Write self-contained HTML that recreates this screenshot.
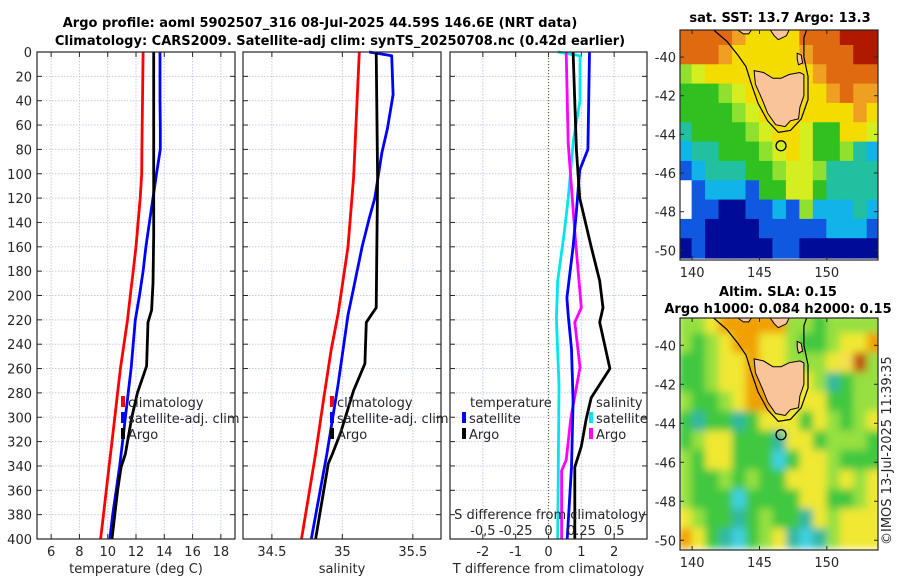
<!DOCTYPE html>
<html><head><meta charset="utf-8">
<style>
html,body{margin:0;padding:0;background:#fff;}
svg{display:block;font-family:"DejaVu Sans","Liberation Sans",sans-serif;}
.tk{font-size:13px;fill:#262626;}
.ttl{font-size:13px;font-weight:bold;fill:#000;}
</style></head>
<body>
<svg id="fig" width="900" height="580" viewBox="0 0 900 580">
<text class="ttl" x="320" y="27" text-anchor="middle">Argo profile: aoml 5902507_316 08-Jul-2025 44.59S 146.6E (NRT data)</text>
<text class="ttl" x="340" y="45" text-anchor="middle">Climatology: CARS2009. Satellite-adj clim: synTS_20250708.nc (0.42d earlier)</text>
<text class="ttl" x="780" y="22" text-anchor="middle">sat. SST: 13.7 Argo: 13.3</text>
<text class="ttl" x="778" y="296" text-anchor="middle">Altim. SLA: 0.15</text>
<text class="ttl" x="778" y="313" text-anchor="middle">Argo h1000: 0.084 h2000: 0.15</text>
<text class="tk" transform="translate(891,545) rotate(-90)">©IMOS 13-Jul-2025 11:39:35</text>
<g id="plots"></g>
</svg>
<script>
// ---------- data ----------
const depthTicks = [0,20,40,60,80,100,120,140,160,180,200,220,240,260,280,300,320,340,360,380,400];
const tempTicks = [6,8,10,12,14,16,18];
const salTicks = [34.5,35,35.5];
const tdiffTicks = [-2,-1,0,1,2];
const sdiffTicks = [-0.5,-0.25,0,0.25,0.5];
const sdiffTickLabels = ["-0,5","-0.25","0","0.25","0.5"];

const tClimDepth = [0,20,40,60,80,100,120,140,160,180,200,220,240,260,280,300,320,340,360,380,400];
const tClim = [12.5,12.48,12.46,12.44,12.42,12.4,12.3,12.15,12.0,11.8,11.6,11.4,11.15,10.9,10.7,10.5,10.3,10.1,9.9,9.7,9.5];
const tSatDepth = [0,20,40,60,80,100,120,140,160,180,200,220,240,260,280,300,320,340,360,380,400];
const tSat = [13.7,13.7,13.7,13.72,13.72,13.45,13.2,12.95,12.7,12.5,12.25,11.95,11.8,11.65,11.45,11.25,11.05,10.85,10.6,10.35,10.15];
const tArgoDepth = [0,50,100,150,190,212,222,258,280,300,320,330,341,360,380,400];
const tArgo = [13.25,13.25,13.25,13.25,13.2,13.1,12.85,12.75,12.1,11.7,11.4,11.25,10.95,10.7,10.5,10.3];

const sClimDepth = [0,103,160,215,245,283,330,400];
const sClim = [35.12,35.08,35.04,34.97,34.92,34.87,34.81,34.71];
const sSatDepth = [0,3,35,63,83,120,137,160,194,216,273,330,400];
const sSat = [35.19,35.35,35.36,35.32,35.28,35.23,35.19,35.14,35.08,35.04,34.97,34.89,34.78];
const sArgoDepth = [0,103,210,222,256,278,312,330,338,400];
const sArgo = [35.24,35.25,35.24,35.17,35.16,35.08,34.99,34.93,34.9,34.81];

const dTSatDepth = [0,80,97,131,160,202,216,244,287,341,400];
const dTSat = [1.25,1.2,0.95,0.85,0.75,0.56,0.6,0.7,0.75,0.7,0.57];
const dTArgoDepth = [0,80,120,160,188,210,222,260,284,301,324,341,400];
const dTArgo = [0.75,0.85,0.95,1.3,1.56,1.66,1.56,1.87,1.3,1.15,1.0,0.8,0.8];
const dSSatDepth = [0,3,40,72,120,148,188,219,273,400];
const dSSat = [0.07,0.24,0.24,0.19,0.15,0.12,0.07,0.06,0.08,0.07];
const dSArgoDepth = [0,75,148,210,222,259,301,335,344,400];
const dSArgo = [0.135,0.15,0.2,0.25,0.2,0.24,0.17,0.135,0.1,0.1];

// map colour grids (lon 139..154, lat -38.5..-50.5, 1 deg cells)
const sstRows = [
"OOOOoYYYYOOORRRR","OOOoYYYYYoOOORRR","gyYYYYYYYYoOOOOO","GGGgyYYYYYYoOooo",
"GGGGgyYYYYYYYoYY","TGGGGgyYYyGGYYyy","CTTGGGgyYyGGgTCC","BCTTTGGgyygTTTTT",
"WBCCCBGGyyGTTTTT","WBBNNBBCBgCCCTCC","BBNNNNBBBBBCCCBB","NBNNNNNBBNNNNNNN"];
const slaRows = [
"ggYOOOOOggGggggg","gGgYOOYYgGGgYYOO","GGgYYOYYgggYyRgg","GGgYYOOYYYgTGggg",
"gGGgYOOOYYYGGggg","GTGGTGYYYGYgGgYY","GgYYGGGTYYGgggGG","gGYYGGGCGYYgGGGG",
"gGGgGgGGYYYgYgYY","gGGGCGGGGYYGGgYY","YgGGTGgGGTYgYYYY","OYGTCGgYTCTgYYYY"];

const NS = "http://www.w3.org/2000/svg";
const root = document.getElementById('plots');
function el(tag, attrs, parent){const e=document.createElementNS(NS,tag);for(const k in attrs)e.setAttribute(k,attrs[k]);(parent||root).appendChild(e);return e;}

const Y0 = 52, Y1 = 539;
const yScale = d => Y0 + (d/400)*(Y1-Y0);

function panel(name, x0, x1, vmin, vmax, ticks, labels, xlabel, showY){
  const xs = v => x0 + (v-vmin)/(vmax-vmin)*(x1-x0);
  const g = el('g',{});
  
  
  // grid
  depthTicks.forEach(d=>{
    const l = el('line',{x1:x0,x2:x1,y1:yScale(d),y2:yScale(d),stroke:'#c4cbe8','stroke-dasharray':'1.5,1.5','stroke-width':1},g);
    
    
    el('line',{x1:x0,x2:x0+5,y1:yScale(d),y2:yScale(d),stroke:'#262626'},g);
    el('line',{x1:x1,x2:x1-5,y1:yScale(d),y2:yScale(d),stroke:'#262626'},g);
    if(showY){
      const t = el('text',{x:x0-5,y:yScale(d)+5,'text-anchor':'end',class:'tk'},g);
      t.textContent = d;
      
      
    }
  });
  ticks.forEach((v,i)=>{
    const l = el('line',{x1:xs(v),x2:xs(v),y1:Y0,y2:Y1,stroke:'#c4cbe8','stroke-dasharray':'1.5,1.5','stroke-width':1},g);
    
    
    el('line',{x1:xs(v),x2:xs(v),y1:Y1,y2:Y1-5,stroke:'#262626'},g);
    el('line',{x1:xs(v),x2:xs(v),y1:Y0,y2:Y0+5,stroke:'#262626'},g);
    const t = el('text',{x:xs(v),y:Y1+17,'text-anchor':'middle',class:'tk'},g);
    t.textContent = labels[i];
    
    
  });
  const xl = el('text',{x:(x0+x1)/2,y:Y1+34,'text-anchor':'middle',class:'tk'},g);
  xl.textContent = xlabel;
  
  
  return {g, xs};
}
function border(g,x0,x1){
  const r = el('rect',{x:x0,y:Y0,width:x1-x0,height:Y1-Y0,fill:'none',stroke:'#262626','stroke-width':1.2},g);
  
  
}
function line(g, xs, depths, vals, color, name){
  const pts = vals.map((v,i)=>xs(v).toFixed(1)+','+yScale(depths[i]).toFixed(1)).join(' ');
  const p = el('polyline',{points:pts,fill:'none',stroke:color,'stroke-width':2.8,'stroke-linejoin':'round'},g);
  
  
}
function legendEntry(g,x,y,color,label,name){
  el('rect',{x:x,y:y-11,width:4,height:11,fill:color},g);
  const t = el('text',{x:x+7,y:y,class:'tk'},g);
  t.textContent = label;
  
  
}

// Panel 1 temperature
const p1 = panel('temperature-panel',37,235,5,19,tempTicks,tempTicks.map(String),'temperature (deg C)',true);
line(p1.g,p1.xs,tClimDepth,tClim,'#ff0000','temp-climatology-line');
line(p1.g,p1.xs,tSatDepth,tSat,'#0000ff','temp-satellite-line');
line(p1.g,p1.xs,tArgoDepth,tArgo,'#000000','temp-argo-line');
legendEntry(p1.g,121,407,'#ff0000','climatology','legend-climatology');
legendEntry(p1.g,121,423,'#0000ff','satellite-adj. clim','legend-satellite');
legendEntry(p1.g,121,439,'#000000','Argo','legend-argo');
border(p1.g,37,235);

// Panel 2 salinity
const p2 = panel('salinity-panel',243,441,34.295,35.70,salTicks,salTicks.map(String),'salinity',false);
line(p2.g,p2.xs,sClimDepth,sClim,'#ff0000','sal-climatology-line');
line(p2.g,p2.xs,sSatDepth,sSat,'#0000ff','sal-satellite-line');
line(p2.g,p2.xs,sArgoDepth,sArgo,'#000000','sal-argo-line');
legendEntry(p2.g,330,407,'#ff0000','climatology','legend-climatology');
legendEntry(p2.g,330,423,'#0000ff','satellite-adj. clim','legend-satellite');
legendEntry(p2.g,330,439,'#000000','Argo','legend-argo');
border(p2.g,243,441);

// Panel 3 differences
const p3 = panel('difference-panel',450,647,-3,3,tdiffTicks,tdiffTicks.map(String),'T difference from climatology',false);
const xsS = v => p3.xs(v*4);
el('line',{x1:p3.xs(0),x2:p3.xs(0),y1:Y0,y2:Y1,stroke:'#556b2f','stroke-dasharray':'1,2','stroke-width':1.2},p3.g);
line(p3.g,xsS,dSSatDepth,dSSat,'#00e5ee','sdiff-satellite-line');
line(p3.g,xsS,dSArgoDepth,dSArgo,'#ff00ff','sdiff-argo-line');
line(p3.g,p3.xs,dTSatDepth,dTSat,'#0000ff','tdiff-satellite-line');
line(p3.g,p3.xs,dTArgoDepth,dTArgo,'#000000','tdiff-argo-line');
{
  const t = el('text',{x:470,y:407,class:'tk'},p3.g); t.textContent='temperature';
   
  const s = el('text',{x:596,y:407,class:'tk'},p3.g); s.textContent='salinity';
   
}
legendEntry(p3.g,462,423,'#0000ff','satellite','legend-t-satellite');
legendEntry(p3.g,462,439,'#000000','Argo','legend-t-argo');
legendEntry(p3.g,589,423,'#00e5ee','satellite','legend-s-satellite');
legendEntry(p3.g,589,439,'#ff00ff','Argo','legend-s-argo');
{
  const t = el('text',{x:550,y:519,'text-anchor':'middle',class:'tk'},p3.g); t.textContent='S difference from climatology';
   
  sdiffTicks.forEach((v,i)=>{
    const l = el('text',{x:xsS(v),y:535,'text-anchor':'middle',class:'tk'},p3.g); l.textContent=sdiffTickLabels[i];
     
  });
}
border(p3.g,450,647);

// ---------- maps ----------
const pal = {R:'#b01800',O:'#e06a10',o:'#f0a020',Y:'#f5dc00',y:'#d4ee20',G:'#30c020',g:'#90e030',T:'#20c0a0',C:'#10b4e8',B:'#1058e0',N:'#000c98',W:'#ffffff'};
const pal2 = {R:'#c05010',O:'#f0a000',Y:'#f0e830',y:'#f5e050',G:'#40c840',g:'#96e040',T:'#30b8a0',C:'#40d0e0'};
const LON0=139.1, LON1=153.8, LAT0=-38.6, LAT1=-50.5;
const tas=[[144.6,-40.7],[145.3,-40.8],[146,-41.1],[146.6,-41.1],[147.2,-40.9],[148.0,-40.8],[148.3,-40.9],[148.3,-42.0],[148.0,-42.6],[147.9,-43.2],[147.3,-43.3],[146.9,-43.6],[146.2,-43.5],[145.6,-42.9],[145.2,-42.2],[144.7,-41.4]];
const flinders=[[147.8,-39.8],[148.1,-39.9],[148.2,-40.3],[147.9,-40.4],[147.8,-40.1]];
const vicA=[[143.4,-38.6],[144.4,-38.6],[144.2,-38.8],[143.8,-38.8]];
const vicB=[[145.8,-38.6],[147.2,-38.6],[147.0,-38.9],[146.4,-39.1],[146.1,-38.9]];
const contour=[[141.6,-38.6],[142.6,-39.2],[143.4,-39.9],[144.0,-40.5],[144.4,-41.4],[144.9,-42.4],[145.6,-43.3],[146.4,-43.9],[147.3,-43.8],[148.1,-43.2],[148.6,-42.2],[148.6,-41.0],[148.3,-40.0],[148.3,-39.0],[148.5,-38.6]];
const argoLon=146.6, argoLat=-44.59;

function map(name,x0,y0,x1,y1,rows,palette,blur){
  const mx = lon => x0+(lon-LON0)/(LON1-LON0)*(x1-x0);
  const my = lat => y0+(lat-LAT0)/(LAT1-LAT0)*(y1-y0);
  const g = el('g',{});
  
  
  const id='clip'+name;
  const cp = el('clipPath',{id:id},g); el('rect',{x:x0,y:y0,width:x1-x0,height:y1-y0},cp);
  const cg = el('g',{'clip-path':'url(#'+id+')'},g);
  const fg = el('g',blur?{filter:'url(#blr)'}:{},cg);
  rows.forEach((r,ri)=>{
    for(let ci=0;ci<r.length;ci++){
      const lon=139+ci, lat=-38.5-ri;
      el('rect',{x:mx(lon)-0.5,y:my(lat+0.1)-0.5,width:mx(lon+1)-mx(lon)+1,height:my(lat-1)-my(lat)+1,fill:palette[r[ci]]},fg);
    }
  });
  const poly=(pts,attrs,nm)=>{const p=el('polygon',Object.assign({points:pts.map(p=>mx(p[0]).toFixed(1)+','+my(p[1]).toFixed(1)).join(' ')},attrs),cg);};
  poly(tas,{fill:'#f9c49a',stroke:'#000','stroke-width':1},'tasmania-land');
  poly(flinders,{fill:'#f9c49a',stroke:'#000','stroke-width':1},'flinders-island');
  poly(vicA,{fill:'#f9c49a',stroke:'#000','stroke-width':1},'mainland-coast');
  poly(vicB,{fill:'#f9c49a',stroke:'#000','stroke-width':1},'mainland-coast');
  const c=el('polyline',{points:contour.map(p=>mx(p[0]).toFixed(1)+','+my(p[1]).toFixed(1)).join(' '),fill:'none',stroke:'#000','stroke-width':1.2},cg);
   
  const m=el('circle',{cx:mx(argoLon),cy:my(argoLat),r:5,fill:'none',stroke:'#000','stroke-width':1.3},cg);
   
  const fr=el('rect',{x:x0,y:y0,width:x1-x0,height:y1-y0,fill:'none',stroke:'#262626','stroke-width':1.2},g);
   
  [-40,-42,-44,-46,-48,-50].forEach(lat=>{
    el('line',{x1:x0,x2:x0+4,y1:my(lat),y2:my(lat),stroke:'#262626'},g);
    el('line',{x1:x1,x2:x1-4,y1:my(lat),y2:my(lat),stroke:'#262626'},g);
    const t=el('text',{x:x0-4,y:my(lat)+5,'text-anchor':'end',class:'tk'},g); t.textContent=lat;
     
  });
  [140,145,150].forEach(lon=>{
    el('line',{x1:mx(lon),x2:mx(lon),y1:y1,y2:y1-4,stroke:'#262626'},g);
    el('line',{x1:mx(lon),x2:mx(lon),y1:y0,y2:y0+4,stroke:'#262626'},g);
    const t=el('text',{x:mx(lon),y:y1+17,'text-anchor':'middle',class:'tk'},g); t.textContent=lon;
     
  });
}
const defs = el('defs',{});
const f = el('filter',{id:'blr',x:'-5%',y:'-5%',width:'110%',height:'110%'},defs);
el('feGaussianBlur',{stdDeviation:4},f);
map('sst-map',680,30,878,260,sstRows,pal,false);
map('sla-map',680,318,878,550,slaRows,pal2,true);
</script>
</body></html>
